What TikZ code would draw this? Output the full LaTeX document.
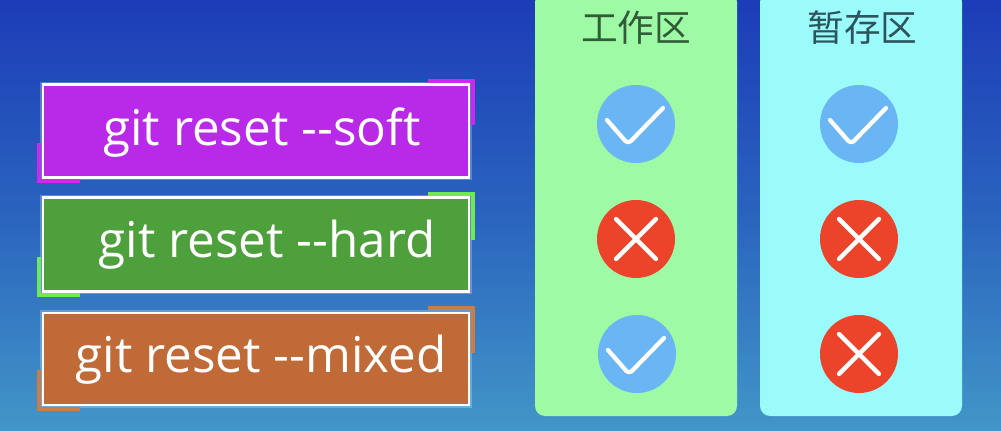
\documentclass[tikz,border=0pt]{standalone}
\usepackage{fontspec}
\usetikzlibrary{calc}
\setmainfont{Open Sans}
\newfontfamily\cjk{Noto Sans CJK SC}
\tikzset{every picture/.style={line width=0.75pt}}
\definecolor{softfill}{RGB}{184,42,232}
\definecolor{hardfill}{RGB}{78,160,60}
\definecolor{mixedfill}{RGB}{192,106,56}
\definecolor{softedge}{RGB}{205,40,235}
\definecolor{hardedge}{RGB}{110,235,80}
\definecolor{mixededge}{RGB}{205,125,65}
\definecolor{workfill}{RGB}{158,250,165}
\definecolor{stagefill}{RGB}{155,250,250}
\definecolor{okfill}{RGB}{106,182,245}
\definecolor{nofill}{RGB}{236,68,42}
\definecolor{worktext}{RGB}{48,92,56}
\definecolor{stagetext}{RGB}{44,84,92}
\tikzset{
  cmdbox/.style={draw=white,line width=1.6pt,inner sep=0pt,minimum width=319.5pt,minimum height=69.75pt,
    preaction={draw=white,draw opacity=0.25,line width=4pt}},
  cmdtext/.style={text=white,font=\fontsize{37}{37}\selectfont,inner sep=0pt,anchor=base},
  areabox/.style={rounded corners=7.5pt,minimum width=151.5pt,minimum height=318pt,inner sep=0pt},
  areatitle/.style={font=\cjk\fontsize{27.5}{27.5}\selectfont,inner sep=0pt},
  okdot/.style={circle,fill=okfill,minimum size=58.5pt,inner sep=0pt},
  nodot/.style={circle,fill=nofill,minimum size=58.5pt,inner sep=0pt},
  markline/.style={draw=white,line width=3.2pt,line cap=round,line join=round},
  cornerline/.style={line width=3pt}
}
\begin{document}
\begin{tikzpicture}[x=0.75pt,y=0.75pt,yscale=-1,xscale=1]
\useasboundingbox (0,0) rectangle (1001,431);

%background
\shade [top color={rgb,255:red,28;green,60;blue,184}, bottom color={rgb,255:red,66;green,150;blue,200}, middle color={rgb,255:red,42;green,100;blue,190}] (0,0) rectangle (1001,431);

%command boxes
\node (softbox) [cmdbox,fill=softfill] at (256,131) {};
\node (hardbox) [cmdbox,fill=hardfill,minimum height=70.5pt] at (256,244.5) {};
\node (mixedbox) [cmdbox,fill=mixedfill,minimum height=69pt] at (256,359) {};
\node (softtext) [cmdtext] at (262,146) {git reset -{}-soft};
\node (hardtext) [cmdtext] at (267,258) {git reset -{}-hard};
\node (mixedtext) [cmdtext] at (261,373) {git reset -{}-mixed};

%corners soft
\draw [cornerline,draw=softedge] (428,81) -- (473,81) -- (473,125) ;
\draw [cornerline,draw=softedge] (39,143) -- (39,181) -- (80,181) ;
%corners hard
\draw [cornerline,draw=hardedge] (428,194.5) -- (473,194.5) -- (473,240) ;
\draw [cornerline,draw=hardedge] (39,257) -- (39,295) -- (80,295) ;
%corners mixed
\draw [cornerline,draw=mixededge] (428,308.5) -- (473,308.5) -- (473,353) ;
\draw [cornerline,draw=mixededge] (39,370) -- (39,409) -- (80,409) ;

%area panels
\node (workarea) [areabox,fill=workfill] at (636,204) {};
\node (stagearea) [areabox,fill=stagefill] at (861,204) {};
\node (worktitle) [areatitle,text=worktext] at (636,27.5) {工作区};
\node (stagetitle) [areatitle,text=stagetext] at (862.5,27.5) {暂存区};

%work marks
\node (workok) [okdot] at (636,124) {};
\draw [markline,rounded corners=3pt] ($(workok)+(-29,-4)$) -- ($(workok)+(-8,20)$) -- ($(workok)+(27,-16)$) ;
\node (workno) [nodot] at (636,239) {};
\draw [markline] ($(workno)+(-20,-20)$) -- ($(workno)+(20,20)$) ;
\draw [markline] ($(workno)+(-20,20)$) -- ($(workno)+(20,-20)$) ;
\node (workokb) [okdot] at (637,354) {};
\draw [markline,rounded corners=3pt] ($(workokb)+(-29,-4)$) -- ($(workokb)+(-8,20)$) -- ($(workokb)+(27,-16)$) ;

%stage marks
\node (stageok) [okdot] at (859,124) {};
\draw [markline,rounded corners=3pt] ($(stageok)+(-29,-4)$) -- ($(stageok)+(-8,20)$) -- ($(stageok)+(27,-16)$) ;
\node (stageno) [nodot] at (859,239) {};
\draw [markline] ($(stageno)+(-20,-20)$) -- ($(stageno)+(20,20)$) ;
\draw [markline] ($(stageno)+(-20,20)$) -- ($(stageno)+(20,-20)$) ;
\node (stagenob) [nodot] at (859,354) {};
\draw [markline] ($(stagenob)+(-20,-20)$) -- ($(stagenob)+(20,20)$) ;
\draw [markline] ($(stagenob)+(-20,20)$) -- ($(stagenob)+(20,-20)$) ;

\end{tikzpicture}
\end{document}
